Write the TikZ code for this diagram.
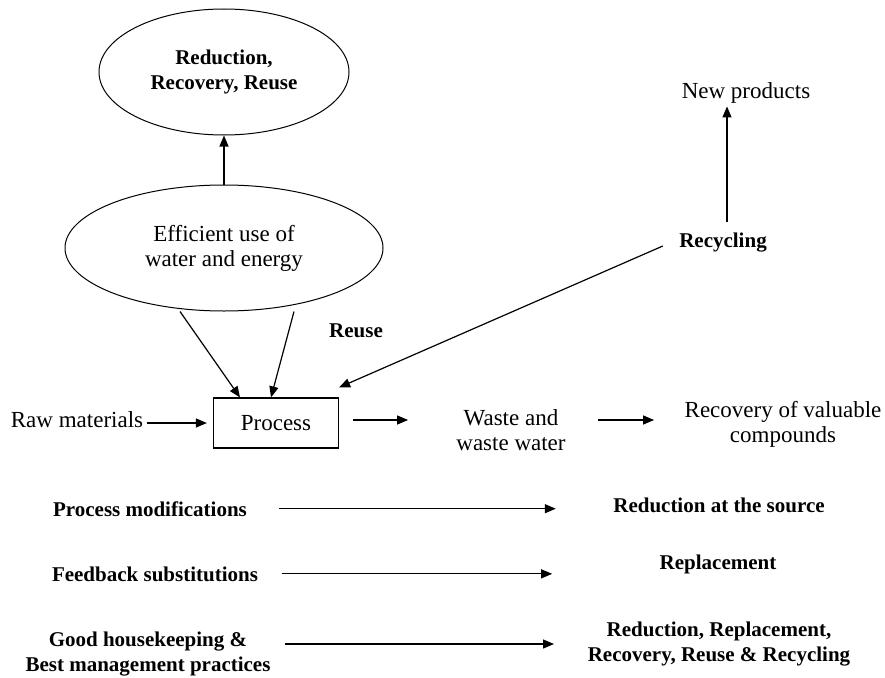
\documentclass[tikz,border=0pt]{standalone}
\usepackage{fontspec}
\setmainfont{Liberation Serif}
\usetikzlibrary{calc,arrows.meta,shapes.geometric}

\begin{document}
\begin{tikzpicture}[x=1pt, y=-1pt,
		arr/.style={line width=1.2pt, -{Triangle[length=11pt, width=9pt]}},
		txt/.style={font=\fontsize{23}{25}\selectfont, align=center},
		btxt/.style={font=\fontsize{21}{25}\selectfont\bfseries, align=center},
		oval/.style={draw, ellipse, line width=1pt}]
		%%%%% START %%%%%
		
		\useasboundingbox (0, 0) rectangle (885, 677);
		
		\node[oval, btxt, minimum width=250pt, minimum height=126pt] (rrr) at (224, 72) {Reduction,\\Recovery, Reuse};
		\node[oval, txt, minimum width=318pt, minimum height=126pt] (eff) at (224, 248) {Efficient use of\\water and energy};
		\draw[arr] (eff.north) -- (rrr.south);
		
		\node[txt, draw, line width=1.2pt, minimum width=125pt, minimum height=50pt] (proc) at (276, 423) {Process};
		\node[txt, anchor=base] (raw) at (77, 427) {Raw materials};
		\draw[arr, shorten >=6pt] (raw.east |- proc.west) -- (proc.west);
		
		\draw[arr] ($(eff.south)+(-44, 0)$) -- ($(proc.north)+(-36, 0)$);
		\draw[arr] ($(eff.south)+(70, 0)$) -- ($(proc.north)+(-5, 0)$);
		
		\node[btxt, anchor=base] (reuse) at (356, 337) {Reuse};
		\node[btxt, anchor=base] (recy) at (723, 247) {Recycling};
		\node[txt, anchor=base] (newp) at (746, 98) {New products};
		\draw[arr] ($(recy.north)+(4, -7)$) coordinate (r0) -- (r0 |- newp.south);
		\draw[arr] ($(recy.west)+(-13, 4)$) -- ($(proc.north east)+(0, -10)$);
		
		\node[txt] (waste) at (511, 430) {Waste and\\waste water};
		\node[txt] (recov) at (783, 424) {Recovery of valuable\\compounds};
		\draw[arr] ($(proc.east)+(14, -3)$) -- ++(55, 0);
		\draw[arr] ($(waste.east)+(29, -10)$) -- ++(56, 0);
		
		\node[btxt, anchor=base] (pm) at (150, 516) {Process modifications};
		\node[btxt, anchor=base] (src) at (719, 512) {Reduction at the source};
		\draw[arr, shorten <=29pt, shorten >=54pt] (pm.east) -- (pm.east -| src.west);
		
		\node[btxt, anchor=base] (fs) at (155, 581) {Feedback substitutions};
		\node[btxt, anchor=base] (repl) at (718, 569) {Replacement};
		\draw[arr, shorten <=20pt, shorten >=104pt] (fs.east) -- (fs.east -| repl.west);
		
		\node[btxt] (gh) at (148, 654) {Good housekeeping \&\\Best management practices};
		\node[btxt] (all) at (719, 644) {Reduction, Replacement,\\Recovery, Reuse \& Recycling};
		\draw[arr] ($(gh.east)+(11, -10)$) -- ++(269, 0);
		
		%%%%% END %%%%%
	\end{tikzpicture}
\end{document}
